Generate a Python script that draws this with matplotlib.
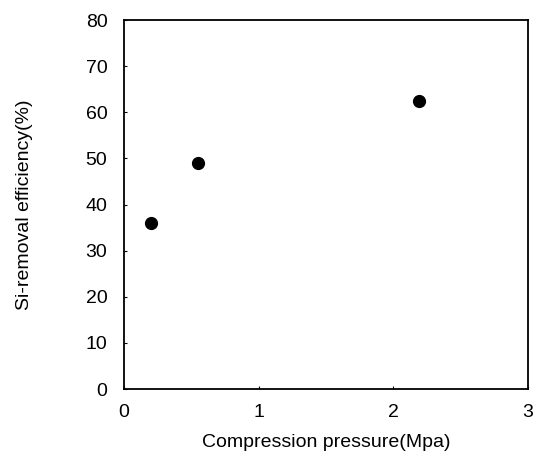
import matplotlib
matplotlib.use("Agg")
import matplotlib.pyplot as plt

# measured points
pressure = [0.2, 0.55, 2.19]
efficiency = [36, 49, 62.5]

x_ticks = [0, 1, 2, 3]
y_ticks = [0, 10, 20, 30, 40, 50, 60, 70, 80]

plt.rcParams["font.family"] = ["Liberation Sans", "DejaVu Sans"]

fig = plt.figure(figsize=(5.35, 4.55), dpi=100)
ax = fig.add_axes([0.232, 0.145, 0.755, 0.811])

ax.plot(pressure, efficiency, "o", color="black", markersize=8.5)

ax.set_xlim(0, 3)
ax.set_ylim(0, 80)
ax.set_xticks(x_ticks)
ax.set_yticks(y_ticks)
ax.tick_params(direction="in", length=2, width=0.8, labelsize=14)
ax.tick_params(axis="x", pad=11)
ax.tick_params(axis="y", pad=12)
for s in ax.spines.values():
    s.set_linewidth(1.3)

ax.set_xlabel("Compression pressure(Mpa)", fontsize=14, labelpad=9)
ax.set_ylabel("Si-removal efficiency(%)", fontsize=14, labelpad=38)

fig.savefig("out.png", dpi=100)
